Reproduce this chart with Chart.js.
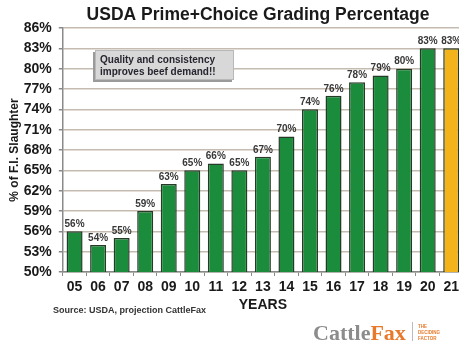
<!DOCTYPE html>
<html>
<head>
<meta charset="utf-8">
<script src="https://cdn.jsdelivr.net/npm/chart.js@4.4.1/dist/chart.umd.min.js"></script>
<style>
  html, body { margin: 0; padding: 0; background: #fff; overflow: hidden; width: 459px; height: 343px; }
  #wrap { width: 463px; height: 343px; }
</style>
</head>
<body>
<div id="wrap"><canvas id="c" width="463" height="343"></canvas></div>
<script>
// Prime + Choice share of federally inspected slaughter, by year (2021 = projection)
const years = ['05','06','07','08','09','10','11','12','13','14','15','16','17','18','19','20','21'];
const gradePct = [56, 54, 55, 59, 63, 65, 66, 65, 67, 70, 74, 76, 78, 79, 80, 83, 83];
const isProjection = [false,false,false,false,false,false,false,false,false,false,false,false,false,false,false,false,true];
const yTickValues = [50, 53, 56, 59, 62, 65, 68, 71, 74, 77, 80, 83, 86];

const titleText = 'USDA Prime+Choice Grading Percentage';
const noteLines = ['Quality and consistency', 'improves beef demand!!'];
const sourceText = 'Source: USDA, projection CattleFax';

const FONT = "'Liberation Sans', Arial, sans-serif";
Chart.defaults.font.family = FONT;

const GREEN = '#1b8c3b';
const GOLD = '#f2b31b';

const decorations = {
  id: 'decorations',
  afterDatasetsDraw(chart) {
    const ctx = chart.ctx;
    const meta = chart.getDatasetMeta(0);
    ctx.save();
    // value labels above each bar
    ctx.font = 'bold 10px ' + FONT;
    ctx.fillStyle = '#383838';
    ctx.textAlign = 'center';
    ctx.textBaseline = 'bottom';
    meta.data.forEach((bar, i) => {
      ctx.fillText(gradePct[i] + '%', bar.x, bar.y - 2);
    });
    ctx.restore();
  },
  afterDraw(chart) {
    const ctx = chart.ctx;
    ctx.save();

    // title
    ctx.font = 'bold 17.5px ' + FONT;
    ctx.fillStyle = '#1a1a1a';
    ctx.textAlign = 'center';
    ctx.textBaseline = 'middle';
    ctx.fillText(titleText, 258, 15);

    // callout box
    const bx = 95, by = 50, bw = 139, bh = 30;
    ctx.fillStyle = '#9a9a9a';
    ctx.fillRect(bx - 2, by + 2, bw, bh);
    ctx.fillStyle = '#d8d8d8';
    ctx.fillRect(bx, by, bw, bh);
    ctx.strokeStyle = '#b8b8b8';
    ctx.lineWidth = 1;
    ctx.strokeRect(bx + 0.5, by + 0.5, bw - 1, bh - 1);
    ctx.font = 'bold 10px ' + FONT;
    ctx.fillStyle = '#262630';
    ctx.textAlign = 'left';
    ctx.textBaseline = 'middle';
    ctx.fillText(noteLines[0], bx + 5, by + 10);
    ctx.fillText(noteLines[1], bx + 5, by + 22);

    // source line
    ctx.font = 'bold 9px ' + FONT;
    ctx.fillStyle = '#333';
    ctx.textAlign = 'left';
    ctx.fillText(sourceText, 53, 311);

    // CattleFax wordmark
    ctx.font = "bold 22px 'Liberation Serif', 'Times New Roman', serif";
    ctx.textBaseline = 'alphabetic';
    ctx.textAlign = 'left';
    ctx.fillStyle = '#8c8c8c';
    ctx.fillText('Cattle', 313, 340);
    const w = ctx.measureText('Cattle').width;
    ctx.fillStyle = '#e8792a';
    ctx.fillText('Fax', 313 + w, 340);
    ctx.strokeStyle = '#bbb';
    ctx.beginPath();
    ctx.moveTo(412.5, 322);
    ctx.lineTo(412.5, 341);
    ctx.stroke();
    ctx.font = 'bold 4.5px ' + FONT;
    ctx.fillStyle = '#e8792a';
    ctx.textBaseline = 'middle';
    ctx.fillText('THE', 418, 327);
    ctx.fillText('DECIDING', 418, 333);
    ctx.fillText('FACTOR', 418, 339);

    ctx.restore();
  }
};

new Chart(document.getElementById('c'), {
  type: 'bar',
  data: {
    labels: years,
    datasets: [{
      data: gradePct,
      backgroundColor: isProjection.map(p => p ? GOLD : GREEN),
      borderColor: '#263a28',
      borderWidth: 1.5,
      borderSkipped: false,
      barPercentage: 0.68,
      categoryPercentage: 1
    }]
  },
  options: {
    responsive: false,
    animation: false,
    devicePixelRatio: 1,
    layout: { padding: { top: 28, left: 0, right: 0, bottom: 29 } },
    plugins: { legend: { display: false }, tooltip: { enabled: false }, title: { display: false } },
    scales: {
      x: {
        grid: { display: true, drawOnChartArea: false, drawTicks: true, tickLength: 4, tickColor: '#888', offset: true },
        border: { color: '#8a8a8a', width: 1.5 },
        ticks: { color: '#1a1a1a', font: { size: 14, weight: 'bold' }, padding: 3, maxRotation: 0, autoSkip: false },
        title: { display: true, text: 'YEARS', color: '#1a1a1a', font: { size: 14, weight: 'bold' }, padding: { top: 0, bottom: 0 } },
        afterFit(scale) { scale.height = 42; }
      },
      y: {
        min: 50,
        max: 86,
        afterBuildTicks(scale) { scale.ticks = yTickValues.map(v => ({ value: v })); },
        grid: { color: '#c6bbb0', lineWidth: 1.5, tickLength: 4, tickColor: '#888' },
        border: { color: '#8a8a8a', width: 1.5 },
        ticks: { color: '#1a1a1a', font: { size: 14, weight: 'bold' }, padding: 7, callback: v => v + '%' },
        title: { display: true, text: '% of F.I. Slaughter', color: '#1a1a1a', font: { size: 12, weight: 'bold' }, padding: { top: 7, bottom: 0 } },
        afterFit(scale) { scale.width = 62.8; }
      }
    }
  },
  plugins: [decorations]
});
</script>
</body>
</html>
